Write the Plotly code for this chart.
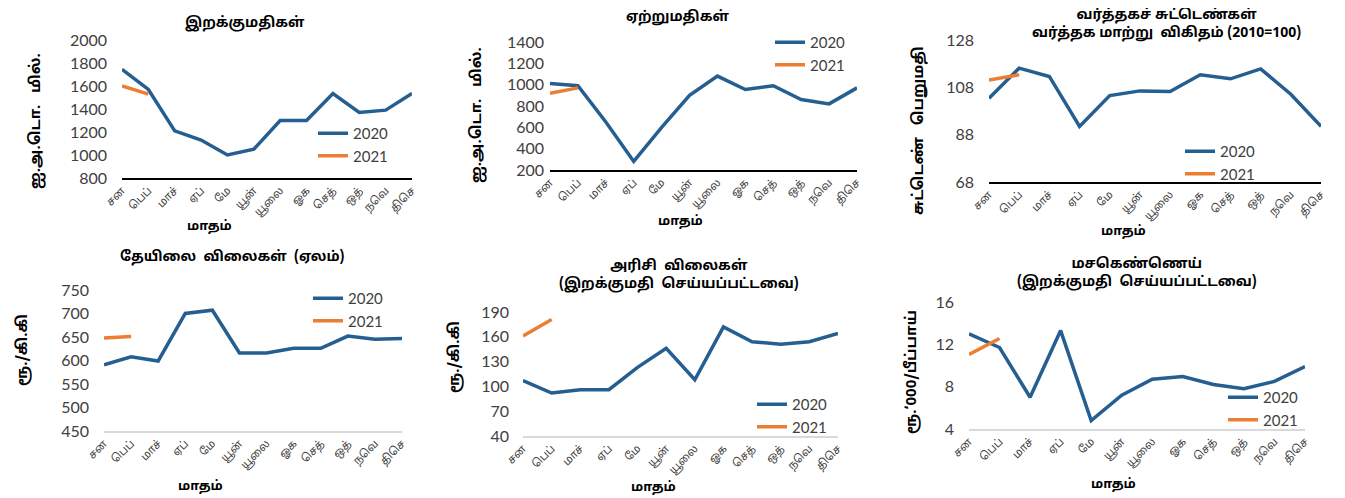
import plotly.graph_objects as go

months = ["சன", "பெப்", "மாச்", "ஏப்", "மே", "யூன்", "யூலை", "ஓக", "செத்", "ஒத்", "நவெ", "திசெ"]
x_idx = list(range(len(months)))

imports_2020 = [1745, 1570, 1210, 1130, 1000, 1050, 1300, 1300, 1535, 1370, 1390, 1535]
imports_2021 = [1600, 1530]
exports_2020 = [1010, 990, 650, 280, 600, 900, 1080, 955, 990, 860, 820, 970]
exports_2021 = [920, 970]
tot_2020 = [103.4, 116.1, 112.6, 91.5, 104.5, 106.5, 106.2, 113.3, 111.6, 115.8, 105.1, 91.5]
tot_2021 = [111.1, 113.3]
tea_2020 = [591, 608, 599, 700, 707, 616, 616, 626, 626, 652, 645, 647]
tea_2021 = [648, 651]
rice_2020 = [107, 92, 96, 96, 123, 146, 108, 172, 154, 151, 154, 164]
rice_2021 = [161, 181]
crude_2020 = [13.0, 11.7, 7.0, 13.3, 4.8, 7.2, 8.7, 8.95, 8.2, 7.8, 8.5, 9.9]
crude_2021 = [11.05, 12.55]

series_names = ["2020", "2021"]

titles = [
    "இறக்குமதிகள்",
    "ஏற்றுமதிகள்",
    "வர்த்தகச் சுட்டெண்கள்<br>வர்த்தக மாற்று  விகிதம் (2010=100)",
    "தேயிலை  விலைகள்  (ஏலம்)",
    "அரிசி  விலைகள்<br>(இறக்குமதி  செய்யப்பட்டவை)",
    "மசகெண்ணெய்<br>(இறக்குமதி  செய்யப்பட்டவை)",
]
y_titles = ["ஐ.அ.டொ.   மில்.", "ஐ.அ.டொ.   மில்.", "சுட்டெண்   பெறுமதி",
            "ரூ./கி.கி", "ரூ./கி.கி", "ரூ.‘000/பீப்பாய்"]
x_title = "மாதம்"

y_ranges = [(800, 2000, 200), (200, 1400, 200), (68, 128, 20),
            (450, 750, 50), (40, 190, 30), (4, 16, 4)]

W, H = 1345, 498
OFF = 8  # page body margin
def px(x): return (x - OFF) / W
def py(y): return 1 - (y - OFF) / H

# plot-area boxes in page pixels: (x0, x1, ytop, ybottom)
boxes = [(122, 412, 40, 178), (550, 857, 42, 170), (989, 1321, 40, 182),
         (104, 402, 290, 431), (523, 838, 312, 436), (969, 1305, 302, 429)]
title_pos = [(245, 23), (677, 17), (1166, 25), (232, 257), (679, 275), (1137, 273)]
ytitle_pos = [(37, 121), (477, 115), (920, 131), (23, 350), (455, 357), (912, 372)]
xtitle_pos = [(209, 227), (680, 222), (1123, 232), (200, 487), (653, 488), (1113, 485)]
# first legend line start and first row centre
legend_pos = [(318, 133), (775, 42), (1185, 151), (313, 298), (757, 404), (1228, 397)]
standoffs = [14, 5, 14, 14, 13, 14]

data = [(imports_2020, imports_2021), (exports_2020, exports_2021), (tot_2020, tot_2021),
        (tea_2020, tea_2021), (rice_2020, rice_2021), (crude_2020, crude_2021)]

BLUE = "#255E91"
ORANGE = "#ED7D31"
TAMIL = "Latha, 'Noto Sans Tamil', 'Lohit Tamil', 'Noto Sans', sans-serif"
NUMF = "Lato, 'DejaVu Sans', sans-serif"

fig = go.Figure()
layout = dict(width=W, height=H, margin=dict(l=0, r=0, t=0, b=0, autoexpand=False),
              plot_bgcolor="white", paper_bgcolor="white", annotations=[])

for i in range(6):
    s = "" if i == 0 else str(i + 1)
    leg = "legend" + s
    y20, y21 = data[i]
    fig.add_trace(go.Scatter(x=x_idx, y=y20, mode="lines", name=series_names[0],
                             line=dict(color=BLUE, width=3.5), xaxis="x" + s, yaxis="y" + s,
                             legend=leg))
    fig.add_trace(go.Scatter(x=x_idx[:len(y21)], y=y21, mode="lines", name=series_names[1],
                             line=dict(color=ORANGE, width=3.5), xaxis="x" + s, yaxis="y" + s,
                             legend=leg))
    x0, x1, yt, yb = boxes[i]
    axcol = "black" if i < 3 else "#D9D9D9"
    layout["xaxis" + s] = dict(domain=[px(x0), px(x1)], range=[0, 11], tickvals=x_idx,
                               ticktext=months, tickangle=-45, showgrid=False, zeroline=False,
                               showline=True, linecolor=axcol, linewidth=1.5, ticks="",
                               automargin=False,
                               tickfont=dict(family=TAMIL, size=11, color="#404040"),
                               anchor="y" + s, fixedrange=True)
    lo, hi, dt = y_ranges[i]
    layout["yaxis" + s] = dict(domain=[py(yb), py(yt)], range=[lo, hi], dtick=dt, tick0=lo,
                               showgrid=False, zeroline=False, showline=False, ticks="",
                               automargin=False,
                               ticklabelstandoff=standoffs[i],
                               tickfont=dict(family=NUMF, size=16, color="#404040"),
                               anchor="x" + s, fixedrange=True)
    lx, ly = legend_pos[i]
    layout[leg] = dict(x=px(lx - 5), y=py(ly - 16), xanchor="left", yanchor="top",
                       bgcolor="rgba(0,0,0,0)", font=dict(family=NUMF, size=15, color="#404040"),
                       tracegroupgap=0, itemwidth=30)
    tx, ty = title_pos[i]
    layout["annotations"].append(dict(x=px(tx), y=py(ty), xref="paper", yref="paper",
                                      text="<b>" + titles[i] + "</b>", showarrow=False,
                                      font=dict(family=TAMIL, size=14, color="black"),
                                      xanchor="center", yanchor="middle"))
    ax_, ay_ = ytitle_pos[i]
    layout["annotations"].append(dict(x=px(ax_), y=py(ay_), xref="paper", yref="paper",
                                      text="<b>" + y_titles[i] + "</b>", showarrow=False,
                                      textangle=-90,
                                      font=dict(family=TAMIL, size=15, color="black"),
                                      xanchor="center", yanchor="middle"))
    bx, by = xtitle_pos[i]
    layout["annotations"].append(dict(x=px(bx), y=py(by), xref="paper", yref="paper",
                                      text="<b>" + x_title + "</b>", showarrow=False,
                                      font=dict(family=TAMIL, size=13, color="black"),
                                      xanchor="center", yanchor="middle"))

fig.update_layout(**layout)
fig.write_html("out.html")
